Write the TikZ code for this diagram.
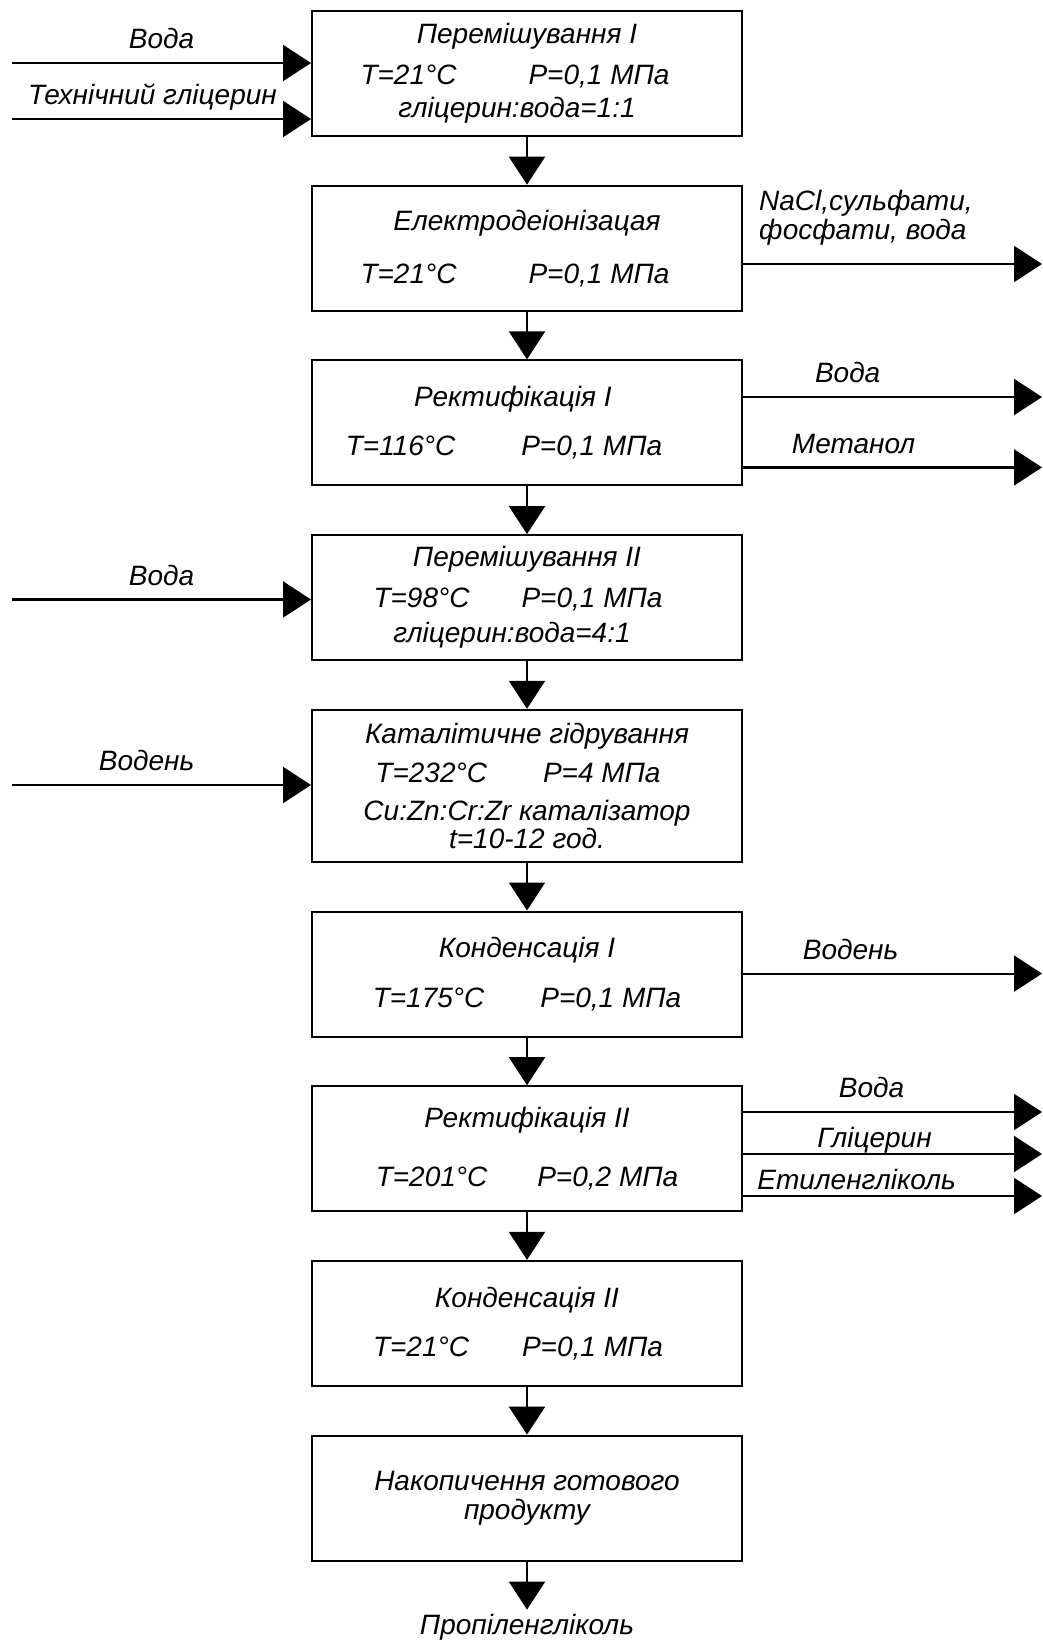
\documentclass[tikz,border=0pt]{standalone}
\usepackage{fontspec}
\setmainfont{Liberation Sans}
\usetikzlibrary{positioning,arrows.meta}

\begin{document}
\begin{tikzpicture}[x=1pt,y=1pt,>={Triangle[length=28pt,width=36pt]},
      font=\fontsize{28}{30}\selectfont\itshape,
      stage/.style={draw,line width=2pt,minimum width=430pt,minimum height=125pt,align=center,inner sep=4pt},
      flow/.style={->,line width=2.2pt},
      lbl/.style={inner sep=6pt,text height=21pt,text depth=7pt}]
  \useasboundingbox (0,0) rectangle (1043,-1643);

  \node[stage] (mix1) at (527,-73.5) {Перемішування I\\[11pt]T=21°C\hspace{72pt}P=0,1 МПа\rule{24pt}{0pt}\\[3pt]гліцерин:вода=1:1\rule{20pt}{0pt}};
  \node[stage] (edi) [below=47.7pt of mix1] {Електродеіонізацая\\[23pt]T=21°C\hspace{72pt}P=0,1 МПа\rule{24pt}{0pt}};
  \node[stage] (rect1) [below=47.7pt of edi] {Ректифікація I\rule{28pt}{0pt}\\[19pt]T=116°C\hspace{66pt}P=0,1 МПа\rule{46pt}{0pt}};
  \node[stage] (mix2) [below=47.7pt of rect1] {Перемішування II\\[11pt]T=98°C\hspace{52pt}P=0,1 МПа\rule{18pt}{0pt}\\[5pt]гліцерин:вода=4:1\rule{30pt}{0pt}};
  \node[stage,minimum height=152pt] (hydr) [below=47.7pt of mix2] {Каталітичне гідрування\\[9pt]T=232°C\hspace{56pt}P=4 МПа\rule{18pt}{0pt}\\[8pt]Cu:Zn:Cr:Zr каталізатор\\[-2pt]t=10-12 год.};
  \node[stage] (cond1) [below=47.7pt of hydr] {Конденсація I\\[20pt]T=175°C\hspace{56pt}P=0,1 МПа};
  \node[stage] (rect2) [below=47.7pt of cond1] {Ректифікація II\\[29pt]T=201°C\hspace{50pt}P=0,2 МПа};
  \node[stage] (cond2) [below=47.7pt of rect2] {Конденсація II\\[19pt]T=21°C\hspace{53pt}P=0,1 МПа\rule{18pt}{0pt}};
  \node[stage] (store) [below=47.7pt of cond2] {Накопичення готового\\[-1pt]продукту};
  \node[lbl,inner sep=4pt] (prod) [below=48pt of store] {Пропіленгліколь};

  % main line
  \foreach \a/\b in {mix1/edi,edi/rect1,rect1/mix2,mix2/hydr,hydr/cond1,cond1/rect2,rect2/cond2,cond2/store,store/prod}
    \draw[flow] (\a) -- (\b);

  % feeds
  \coordinate (water1) at (12,-63);
  \coordinate (glyc1) at (12,-119);
  \coordinate (water2) at (12,-599.5);
  \coordinate (hydin) at (12,-785);
  \draw[flow] (water1) -- (water1 -| mix1.west) node[lbl,midway,above] {Вода};
  \draw[flow] (glyc1) -- (glyc1 -| mix1.west) node[lbl,pos=0.47,above] {Технічний гліцерин};
  \draw[flow] (water2) -- (water2 -| mix2.west) node[lbl,midway,above] {Вода};
  \draw[flow] (hydin) -- (hydin -| hydr.west) node[lbl,pos=0.45,above] {Водень};

  % products
  \coordinate (salts) at (1042,-264);
  \coordinate (water3) at (1042,-397);
  \coordinate (meth) at (1042,-467.4);
  \coordinate (hydout) at (1042,-973.6);
  \coordinate (water4) at (1042,-1112);
  \coordinate (glyc2) at (1042,-1154);
  \coordinate (eglyc) at (1042,-1196);
  \draw[flow] (salts -| edi.east) -- (salts)
    node[pos=0,anchor=south west,inner sep=0pt,xshift=15pt,yshift=18pt,align=left] {NaCl,сульфати,\\[-1.5pt]фосфати, вода};
  \draw[flow] (water3 -| rect1.east) -- (water3) node[lbl,pos=0.35,above] {Вода};
  \draw[flow] (meth -| rect1.east) -- (meth) node[lbl,pos=0.37,above] {Метанол};
  \draw[flow] (hydout -| cond1.east) -- (hydout) node[lbl,pos=0.36,above] {Водень};
  \draw[flow] (water4 -| rect2.east) -- (water4) node[lbl,pos=0.43,above] {Вода};
  \draw[flow] (glyc2 -| rect2.east) -- (glyc2) node[lbl,pos=0.44,above,yshift=-8pt] {Гліцерин};
  \draw[flow] (eglyc -| rect2.east) -- (eglyc) node[lbl,pos=0.38,above,yshift=-8pt] {Етиленгліколь};
\end{tikzpicture}
\end{document}
